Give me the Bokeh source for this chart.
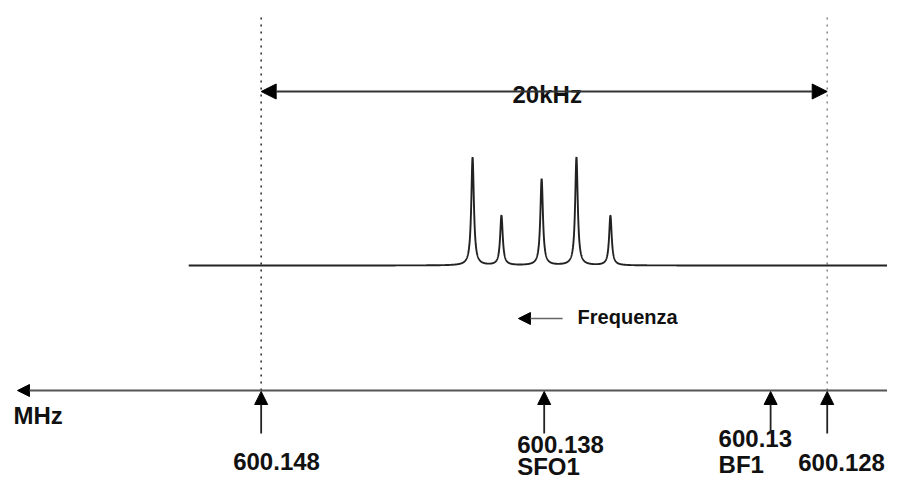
import numpy as np
from bokeh.plotting import figure
from bokeh.models import Arrow, NormalHead, Range1d, ColumnDataSource
from bokeh.core.properties import value
from bokeh.embed import file_html
from bokeh.resources import INLINE

# ---- data (MHz) ----
TICK_MHZ = [600.148, 600.138, 600.13, 600.128]
TICK_LABELS = ["600.148", "600.138", "600.13", "600.128"]
TICK_NAMES = ["", "SFO1", "BF1", ""]
SPAN_LABEL = "20kHz"
PEAK_MHZ = [600.14053, 600.13951, 600.13809, 600.13686, 600.13566]
PEAK_HEIGHT = [1.0, 0.46, 0.80, 1.0, 0.46]
PEAK_HALFWIDTH_MHZ = 0.000055

# ---- layout constants ----
W, H = 887, 482
X_LEFT, X_RIGHT = 600.15721, 600.12587
AXIS_Y = 92
SPEC_BASE = 217
SPEC_SCALE = 108
SPEC_START = 600.15056
SPAN_Y = 391
DOT_TOP = 467
FONT = value("Liberation Sans")
INK = "#111111"

p = figure(width=W, height=H, output_backend="svg", toolbar_location=None,
           x_range=Range1d(X_LEFT, X_RIGHT), y_range=Range1d(0, H),
           x_axis_location=None, y_axis_location=None, min_border=0)
p.grid.visible = False
p.outline_line_color = None
p.background_fill_color = "white"

# dotted guides at the span limits
p.segment(x0=[TICK_MHZ[0], TICK_MHZ[3]], y0=[AXIS_Y, AXIS_Y],
          x1=[TICK_MHZ[0], TICK_MHZ[3]], y1=[DOT_TOP, DOT_TOP],
          line_color=["#333333", "#8a8a8a"], line_width=1.6, line_dash="2 5")

# 20 kHz double arrow
p.add_layout(Arrow(x_start=TICK_MHZ[0], y_start=SPAN_Y, x_end=TICK_MHZ[3], y_end=SPAN_Y,
                   line_width=2.2, line_color="#333333",
                   start=NormalHead(size=15, fill_color="black", line_color="black"),
                   end=NormalHead(size=15, fill_color="black", line_color="black")))
p.text(x=[(TICK_MHZ[0] + TICK_MHZ[3]) / 2], y=[388], text=[SPAN_LABEL],
       x_offset=3, text_font=FONT, text_font_style="bold", text_font_size="24px",
       text_align="center", text_baseline="alphabetic", text_color=INK)

# spectrum
xs = np.linspace(SPEC_START, X_RIGHT, 6000)
ys = np.zeros_like(xs)
for c, h in zip(PEAK_MHZ, PEAK_HEIGHT):
    ys += h / (1 + ((xs - c) / PEAK_HALFWIDTH_MHZ) ** 2)
p.line(xs, SPEC_BASE + SPEC_SCALE * ys, line_color="#222222", line_width=1.9)

# Frequenza arrow
p.add_layout(Arrow(x_start=600.13735, y_start=164, x_end=600.13891, y_end=164,
                   line_width=1.6, line_color="#666666",
                   end=NormalHead(size=12, fill_color="black", line_color="black")))
p.text(x=[600.13682], y=[165.5], text=["Frequenza"], text_font=FONT,
       text_font_style="bold", text_font_size="20px", text_align="left",
       text_baseline="alphabetic", text_color=INK)

# MHz axis
p.add_layout(Arrow(x_start=X_RIGHT, y_start=AXIS_Y, x_end=600.15661, y_end=AXIS_Y,
                   line_width=2, line_color="#555555",
                   end=NormalHead(size=12, fill_color="black", line_color="black")))
p.text(x=[600.156751], y=[67.5], text=["MHz"], text_font=FONT, text_font_style="bold",
       text_font_size="24px", text_align="left", text_baseline="alphabetic",
       text_color=INK)

# up arrows at the marked frequencies
arr = ColumnDataSource(dict(x=TICK_MHZ, y0=[49] * 4, y1=[AXIS_Y - 1] * 4))
p.add_layout(Arrow(x_start="x", y_start="y0", x_end="x", y_end="y1", source=arr,
                   line_width=1.8, line_color="#222222",
                   end=NormalHead(size=13, fill_color="black", line_color="black")))

lab_x_off = [-28, -27, -52, -29]
lab_y = [21, 38, 44, 20.5]
name_y = [0, 16, 18, 0]
lab = ColumnDataSource(dict(
    x=TICK_MHZ + TICK_MHZ,
    y=lab_y + name_y,
    t=TICK_LABELS + TICK_NAMES,
    dx=lab_x_off + lab_x_off))
p.text(x="x", y="y", text="t", x_offset="dx", source=lab, text_font=FONT,
       text_font_style="bold", text_font_size="24px", text_align="left",
       text_baseline="alphabetic", text_color=INK)

open("out.html", "w").write(file_html(p, INLINE))
